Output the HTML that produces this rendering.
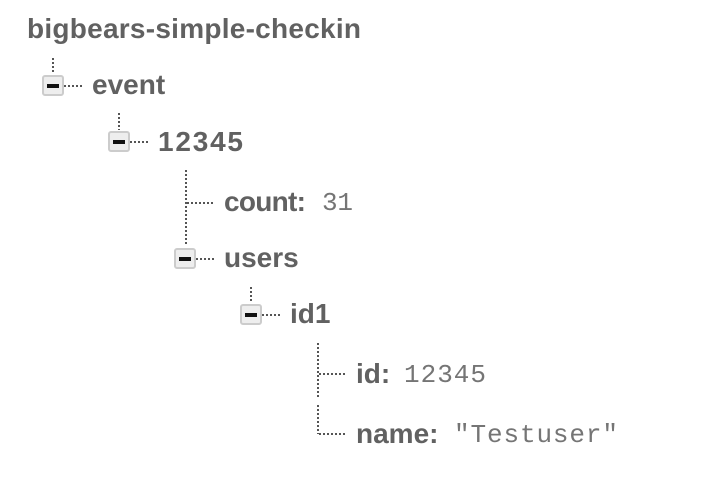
<!DOCTYPE html>
<html><head><meta charset="utf-8"><style>
html,body{margin:0;padding:0;background:#fff;}
svg{display:block}
.b{font-family:"Liberation Sans",sans-serif;font-weight:bold;fill:#616161;font-size:28px}
.m{font-family:"Liberation Mono",monospace;fill:#757575;font-size:26px}
.d{stroke:#555;stroke-width:2;stroke-dasharray:2 2;fill:none}
.bx{fill:#eee;stroke:#ccc;stroke-width:2}
</style></head><body>
<svg width="722" height="480" viewBox="0 0 722 480">
<text class="b" x="27" y="38" font-size="26" textLength="334">bigbears-simple-checkin</text>

<line class="d" x1="53" y1="58" x2="53" y2="74"/>
<rect class="bx" x="43" y="76" width="20" height="19" rx="2"/>
<rect x="47" y="84" width="12" height="4" fill="#111"/>
<line class="d" x1="64" y1="86" x2="82" y2="86"/>
<text class="b" x="92" y="94">event</text>

<line class="d" x1="119" y1="113" x2="119" y2="130"/>
<rect class="bx" x="109" y="132" width="20" height="19" rx="2"/>
<rect x="113" y="140" width="12" height="4" fill="#111"/>
<line class="d" x1="130" y1="142" x2="148" y2="142"/>
<text class="b" x="158" y="151" textLength="85">12345</text>

<line class="d" x1="186" y1="170" x2="186" y2="244"/>
<line class="d" x1="187" y1="203" x2="215" y2="203"/>
<text class="b" x="224" y="211" textLength="82">count:</text>
<text class="m" x="322" y="210" textLength="31">31</text>

<rect class="bx" x="175" y="249" width="20" height="19" rx="2"/>
<rect x="179" y="257" width="12" height="4" fill="#111"/>
<line class="d" x1="196" y1="259" x2="214" y2="259"/>
<text class="b" x="224" y="267">users</text>

<line class="d" x1="251" y1="287" x2="251" y2="303"/>
<rect class="bx" x="241" y="305" width="20" height="19" rx="2"/>
<rect x="245" y="313" width="12" height="4" fill="#111"/>
<line class="d" x1="262" y1="315" x2="280" y2="315"/>
<text class="b" x="290" y="323">id1</text>

<line class="d" x1="318" y1="343" x2="318" y2="398"/>
<line class="d" x1="319" y1="374" x2="347" y2="374"/>
<text class="b" x="356" y="383">id:</text>
<text class="m" x="404" y="382" textLength="82">12345</text>

<line class="d" x1="318" y1="405" x2="318" y2="434"/>
<line class="d" x1="319" y1="434" x2="347" y2="434"/>
<text class="b" x="356" y="443">name:</text>
<text class="m" x="454" y="442" textLength="164">"Testuser"</text>
</svg>
</body></html>
